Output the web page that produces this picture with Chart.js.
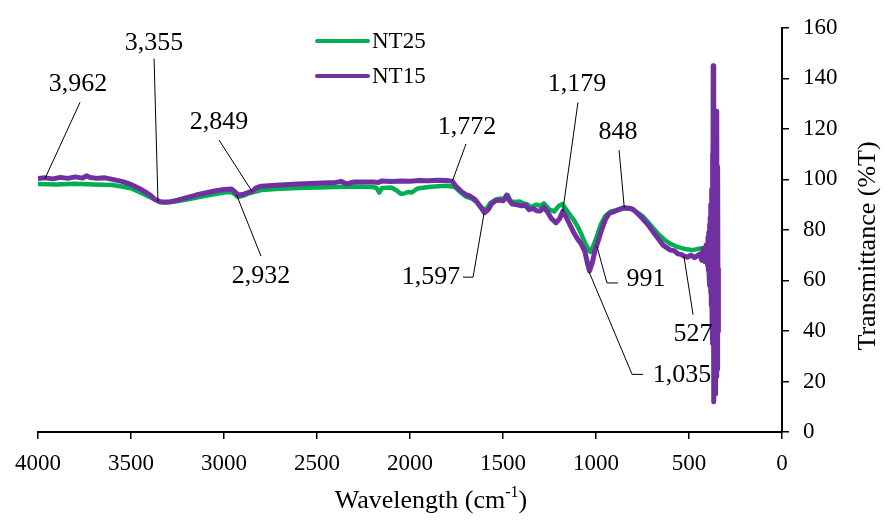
<!DOCTYPE html>
<html>
<head>
<meta charset="utf-8">
<script src="https://cdn.jsdelivr.net/npm/chart.js@4.4.1/dist/chart.umd.min.js"></script>
<style>
  html, body { margin: 0; padding: 0; background: #fff; }
  #wrap { width: 889px; height: 523px; }
</style>
</head>
<body>
<div id="wrap"><canvas id="ftirChart" width="889" height="523"></canvas></div>
<script>
// wavenumbers (cm-1) and transmittance (%T)
const nt25Wave = [4000, 3900, 3800, 3700, 3600, 3550, 3500, 3450, 3400, 3350, 3320, 3280, 3200, 3100, 3000, 2960, 2940, 2925, 2900, 2860,
  2800, 2700, 2600, 2500, 2400, 2300, 2200, 2180, 2165, 2150, 2100, 2070, 2050, 2030, 2010, 1990, 1960, 1900, 1850, 1800,
  1760, 1730, 1700, 1670, 1640, 1610, 1590, 1570, 1540, 1510, 1490, 1475, 1460, 1440, 1410, 1390, 1370, 1350, 1320, 1300,
  1280, 1250, 1225, 1200, 1180, 1160, 1140, 1120, 1100, 1080, 1060, 1040, 1030, 1015, 995, 975, 950, 920, 880, 848,
  810, 780, 750, 720, 690, 660, 630, 600, 570, 540, 510, 480, 450, 420, 400];
const nt25T = [98.2, 98.0, 98.3, 98.0, 97.8, 97.2, 96.5, 94.8, 93.0, 91.3, 90.8, 91.0, 92.0, 93.5, 94.8, 95.0, 94.0, 93.0, 93.5, 94.6,
  95.8, 96.3, 96.6, 96.8, 97.0, 97.2, 97.0, 96.6, 94.8, 96.6, 96.8, 95.5, 94.3, 94.4, 95.0, 94.8, 96.4, 97.0, 97.3, 97.5,
  97.0, 95.0, 93.2, 92.5, 91.0, 88.5, 88.2, 90.5, 92.0, 92.4, 92.0, 93.8, 91.5, 91.0, 91.2, 90.5, 90.2, 89.0, 90.0, 89.5,
  90.5, 88.0, 87.3, 89.5, 90.2, 88.0, 86.0, 84.0, 81.5, 78.5, 75.0, 72.0, 71.3, 73.5, 77.5, 82.0, 85.5, 87.3, 88.0, 88.5,
  88.5, 87.0, 85.5, 83.0, 80.5, 78.0, 76.0, 74.5, 73.5, 72.8, 72.3, 72.0, 72.5, 72.8, 73.0];

const nt15Wave = [4000, 3962, 3920, 3880, 3840, 3800, 3760, 3740, 3720, 3680, 3640, 3600, 3550, 3500, 3450, 3400, 3370, 3340, 3300, 3250,
  3200, 3150, 3100, 3050, 3000, 2960, 2940, 2925, 2900, 2870, 2849, 2830, 2800, 2700, 2600, 2500, 2400, 2370, 2340, 2300,
  2200, 2170, 2150, 2100, 2050, 2000, 1950, 1900, 1850, 1800, 1772, 1750, 1720, 1700, 1680, 1650, 1620, 1600, 1580, 1560,
  1540, 1520, 1500, 1480, 1465, 1450, 1430, 1400, 1380, 1360, 1340, 1320, 1300, 1280, 1260, 1240, 1215, 1195, 1179, 1160,
  1140, 1120, 1100, 1080, 1060, 1045, 1035, 1020, 1005, 991, 970, 950, 930, 900, 870, 848, 820, 800, 770, 750,
  720, 700, 680, 660, 640, 620, 600, 580, 560, 540, 527, 510, 490, 470, 450, 440, 432, 424, 416, 408,
  400, 398, 396, 394, 392, 390, 388, 386, 384, 382, 380, 378, 376, 374, 372, 370, 368, 366, 364, 362,
  360, 358, 356, 354, 352, 350, 348, 346, 344, 342];
const nt15T = [100.3, 100.6, 100.2, 100.8, 100.4, 101.0, 100.5, 101.4, 100.7, 100.4, 100.6, 100.0, 99.2, 98.0, 96.2, 94.0, 92.0, 91.0, 91.0, 91.8,
  92.8, 93.8, 94.6, 95.4, 96.0, 96.2, 95.0, 93.8, 94.0, 94.8, 95.2, 96.5, 97.3, 97.8, 98.2, 98.5, 98.8, 99.2, 98.2, 99.0,
  99.0, 98.8, 99.4, 99.2, 99.4, 99.3, 99.6, 99.5, 99.7, 99.6, 99.2, 97.0, 95.0, 94.0, 93.5, 92.0, 89.0, 86.8, 88.0, 90.5,
  91.5, 91.8, 91.5, 93.8, 91.5, 90.2, 90.0, 89.5, 89.8, 88.0, 88.5, 87.6, 87.5, 89.0, 87.0, 84.5, 82.8, 84.5, 87.3, 85.0,
  82.0, 79.0, 76.5, 74.5, 71.5, 66.5, 63.8, 67.0, 72.0, 75.0, 80.0, 84.0, 86.5, 87.3, 88.3, 88.8, 88.6, 88.0, 86.0, 84.5,
  82.0, 80.0, 78.0, 76.0, 74.0, 73.0, 72.0, 71.8, 70.5, 70.2, 69.6, 69.2, 70.0, 69.0, 70.0, 70.5, 68.0, 72.5, 67.5, 74.0,
  66.0, 77.0, 64.0, 79.0, 62.0, 82.0, 58.0, 85.0, 55.0, 90.0, 50.0, 96.0, 45.0, 110.0, 35.0, 145.0, 25.0, 12.0, 118.0, 20.0,
  100.0, 15.0, 112.0, 22.0, 95.0, 127.0, 25.0, 105.0, 40.0, 65.0];

const xTicks = [4000, 3500, 3000, 2500, 2000, 1500, 1000, 500, 0];
const yTicks = [0, 20, 40, 60, 80, 100, 120, 140, 160];

// peak call-outs: text centre and leader line, in wavenumber / %T units
const peakLabels = [
  { text: '3,962', at: [3785, 137.6], path: [[3774, 130.5], [3962, 100.4]] },
  { text: '3,355', at: [3376, 154.1], path: [[3376, 147.8], [3355, 91.2]] },
  { text: '2,849', at: [3027, 122.6], path: [[3027, 115.6], [2849, 95.2]] },
  { text: '2,932', at: [2801, 61.7], path: [[2801, 69.6], [2932, 93.8]] },
  { text: '1,772', at: [1694, 120.7], path: [[1699, 114.0], [1772, 99.4]] },
  { text: '1,597', at: [1887, 61.3], path: [[1715, 61.3], [1661, 61.3], [1602, 86.5]] },
  { text: '1,179', at: [1102, 137.6], path: [[1097, 130.5], [1179, 87.3]] },
  { text: '848', at: [882, 118.7], path: [[876, 111.6], [848, 88.8]] },
  { text: '991', at: [731, 60.5], path: [[882, 59.0], [941, 59.0], [995, 73.5]] },
  { text: '1,035', at: [538, 22.4], path: [[747, 22.8], [806, 22.8], [1038, 63.5]] },
  { text: '527', at: [478, 38.9], path: [[478, 46.4], [527, 69.4]] }
];

const SERIF = '"Liberation Serif", "Times New Roman", serif';

function toPoints(xs, ys) {
    return xs.map((w, i) => ({ x: w, y: ys[i] }));
}

const overlayPlugin = {
    id: 'overlay',
    afterDatasetsDraw(chart) {
        const { ctx, scales: { x, y } } = chart;
        ctx.save();

        // peak labels with leader lines
        ctx.strokeStyle = '#000';
        ctx.lineWidth = 1;
        ctx.fillStyle = '#000';
        ctx.font = '26px ' + SERIF;
        ctx.textAlign = 'center';
        ctx.textBaseline = 'middle';
        peakLabels.forEach(p => {
            ctx.beginPath();
            p.path.forEach(([wx, wy], i) => {
                const px = x.getPixelForValue(wx);
                const py = y.getPixelForValue(wy);
                if (i === 0) ctx.moveTo(px, py); else ctx.lineTo(px, py);
            });
            ctx.stroke();
            ctx.fillText(p.text, x.getPixelForValue(p.at[0]), y.getPixelForValue(p.at[1]));
        });

        // legend, stacked vertically
        ctx.font = '23px ' + SERIF;
        ctx.textAlign = 'left';
        chart.data.datasets.forEach((ds, i) => {
            const ly = 41 + i * 35;
            ctx.strokeStyle = ds.borderColor;
            ctx.lineWidth = 4;
            ctx.lineCap = 'round';
            ctx.beginPath();
            ctx.moveTo(317, ly);
            ctx.lineTo(368, ly);
            ctx.stroke();
            ctx.fillStyle = '#000';
            ctx.fillText(ds.label, 372, ly + 1);
        });

        // x axis title with superscript
        ctx.font = '26px ' + SERIF;
        const main = 'Wavelength (cm';
        const sup = '-1';
        const tail = ')';
        const wMain = ctx.measureText(main).width;
        const wTail = ctx.measureText(tail).width;
        ctx.font = '16px ' + SERIF;
        const wSup = ctx.measureText(sup).width;
        let tx = 431 - (wMain + wSup + wTail) / 2;
        const ty = 501;
        ctx.textAlign = 'left';
        ctx.font = '26px ' + SERIF;
        ctx.fillText(main, tx, ty);
        tx += wMain;
        ctx.font = '16px ' + SERIF;
        ctx.fillText(sup, tx, ty - 8);
        tx += wSup;
        ctx.font = '26px ' + SERIF;
        ctx.fillText(tail, tx, ty);

        // y axis title
        ctx.translate(868, 246);
        ctx.rotate(-Math.PI / 2);
        ctx.textAlign = 'center';
        ctx.fillText('Transmittance (%T)', 0, 0);
        ctx.restore();
    }
};

new Chart(document.getElementById('ftirChart'), {
    type: 'line',
    data: {
        datasets: [
            {
                label: 'NT25',
                data: toPoints(nt25Wave, nt25T),
                borderColor: '#00B050',
                borderWidth: 4.5,
                pointRadius: 0,
                tension: 0,
                borderJoinStyle: 'round',
                order: 1
            },
            {
                label: 'NT15',
                data: toPoints(nt15Wave, nt15T),
                borderColor: '#7030A0',
                borderWidth: 5,
                pointRadius: 0,
                tension: 0,
                borderJoinStyle: 'round',
                order: 0
            }
        ]
    },
    options: {
        responsive: false,
        animation: false,
        layout: { padding: { left: 38, top: 25, right: 0, bottom: 0 } },
        plugins: {
            legend: { display: false },
            tooltip: { enabled: false }
        },
        scales: {
            x: {
                type: 'linear',
                reverse: true,
                min: 0,
                max: 4000,
                afterFit: s => { s.height = 91; },
                afterBuildTicks: s => { s.ticks = xTicks.map(v => ({ value: v })); },
                ticks: {
                    color: '#000',
                    font: { family: SERIF, size: 23 },
                    padding: 11,
                    maxRotation: 0,
                    callback: v => String(v)
                },
                grid: { display: true, drawOnChartArea: false, drawTicks: true, tickLength: 7, color: '#000', lineWidth: 1.5 },
                border: { display: true, color: '#000', width: 2 }
            },
            y: {
                position: 'right',
                min: 0,
                max: 160,
                afterFit: s => { s.width = 107; },
                afterBuildTicks: s => { s.ticks = yTicks.map(v => ({ value: v })); },
                ticks: {
                    color: '#000',
                    font: { family: SERIF, size: 23 },
                    padding: 14,
                    callback: v => String(v)
                },
                grid: { display: true, drawOnChartArea: false, drawTicks: true, tickLength: 7, color: '#000', lineWidth: 1.5 },
                border: { display: true, color: '#000', width: 2 }
            }
        }
    },
    plugins: [overlayPlugin]
});
</script>
</body>
</html>
